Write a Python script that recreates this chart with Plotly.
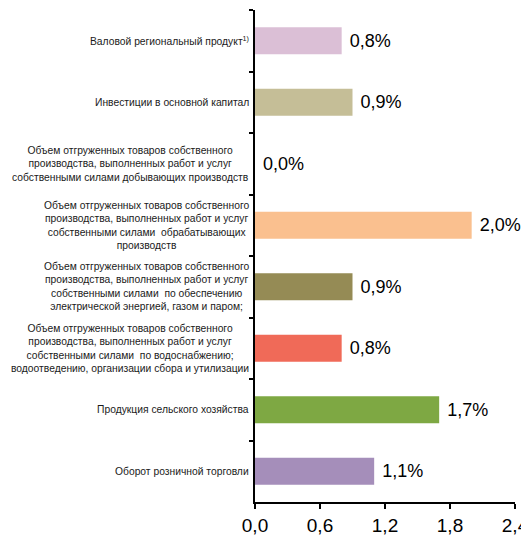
import plotly.graph_objects as go

categories = [
    "Валовой региональный продукт<sup>1)</sup>",
    "Инвестиции в основной капитал",
    "Объем отгруженных товаров собственного<br>производства, выполненных работ и услуг<br>собственными силами добывающих производств",
    "Объем отгруженных товаров собственного<br>производства, выполненных работ и услуг<br>собственными силами  обрабатывающих<br>производств",
    "Объем отгруженных товаров собственного<br>производства, выполненных работ и услуг<br>собственными силами  по обеспечению<br>электрической энергией, газом и паром;",
    "Объем отгруженных товаров собственного<br>производства, выполненных работ и услуг<br>собственными силами  по водоснабжению;<br>водоотведению, организации сбора и утилизации",
    "Продукция сельского хозяйства",
    "Оборот розничной торговли",
]
values = [0.8, 0.9, 0.0, 2.0, 0.9, 0.8, 1.7, 1.1]
colors = ["#DBBFD6", "#C5BE97", "#FFFFFF", "#FAC08F", "#958B55", "#F06A58", "#7EA843", "#A58EBA"]
tick_vals = [0, 0.6, 1.2, 1.8, 2.4]

keys = [f"c{i}" for i in range(len(categories))]

fig = go.Figure(go.Bar(
    y=keys, x=values, orientation="h",
    marker=dict(color=colors, line=dict(width=0)),
    texttemplate="\u00a0%{x:.1f}%", textposition="outside",
    textfont=dict(size=18, color="black", family="Liberation Sans, Arial"),
    cliponaxis=False,
))

annotations = [
    dict(text=c, x=0, xref="paper", y=k, yref="y", xanchor="right", xshift=-4,
         align="center", showarrow=False,
         font=dict(size=10.3, color="#1a1a1a", family="Liberation Sans, Arial"))
    for c, k in zip(categories, keys)
]

# page body has an 8px default margin; figure sized so it ends at the window edge
fig.update_layout(
    width=521, height=529,
    margin=dict(l=247, r=14, t=2, b=35, autoexpand=False),
    plot_bgcolor="white", paper_bgcolor="white",
    separators=", ",
    bargap=0.56,
    showlegend=False,
    annotations=annotations,
    font=dict(family="Liberation Sans, Arial", color="black"),
)
fig.update_xaxes(
    range=[0, 2.4], tickvals=tick_vals, tickformat=".1f", automargin=False,
    showgrid=False, zeroline=False,
    showline=True, linecolor="black", linewidth=2,
    ticks="outside", ticklen=5, tickwidth=2, tickcolor="black",
    tickfont=dict(size=19, color="black"),
)
fig.update_yaxes(
    autorange="reversed", showticklabels=False, showgrid=False, zeroline=False,
    automargin=False,
    showline=True, linecolor="black", linewidth=2,
    ticks="outside", ticklen=4, tickwidth=2, tickcolor="black", tickson="boundaries",
)

fig.write_html("out.html")
